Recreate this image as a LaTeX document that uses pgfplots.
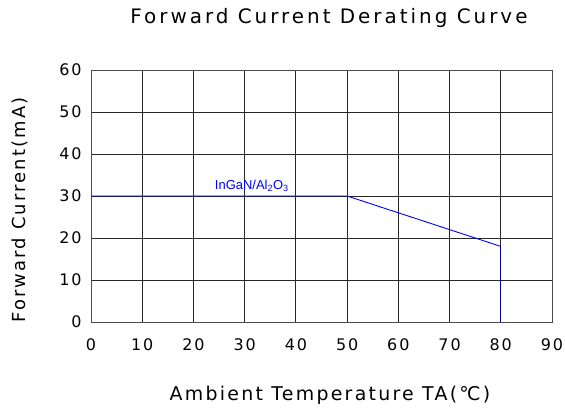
\documentclass[border=0pt]{standalone}
\usepackage{pgfplots}
\pgfplotsset{compat=1.18}
\usepackage{fontspec}
\setmainfont{DejaVu Sans}
\newfontfamily\cadfont{DejaVu Sans}[LetterSpace=12]
\newfontfamily\titfont{DejaVu Sans}[LetterSpace=15]
\newfontfamily\labfont{Liberation Sans}
\begin{document}
\begin{tikzpicture}
\useasboundingbox (0,0) rectangle (565bp,410bp);
\begin{axis}[
  at={(91bp,88bp)}, anchor=south west,
  width=461bp, height=252bp, scale only axis,
  xmin=0, xmax=90, ymin=0, ymax=60,
  xtick={0,10,...,90}, ytick={0,10,...,60},
  grid=major,
  major grid style={black!85, line width=0.8bp},
  axis line style={black!70, line width=0.8bp},
  major tick length=0pt,
  /pgf/number format/assume math mode=true,
  ticklabel style={font=\fontsize{16}{16}\selectfont\cadfont},
  xticklabel style={anchor=center, yshift=-23bp},
  yticklabel style={anchor=east, xshift=-6bp},
  clip=false,
]
\addplot[blue, line width=0.9bp] coordinates {(0,30) (50,30) (80,18)};
\addplot[blue!60!black, line width=0.9bp] coordinates {(80,18) (80,0)};
\node[text=blue, font=\fontsize{13}{13}\selectfont\labfont] at (axis cs:31.4,32.4) {InGaN/Al\textsubscript{2}O\textsubscript{3}};
\end{axis}
\node[font=\fontsize{20}{20}\selectfont\titfont] at (329bp,392bp) {Forward Current Derating Curve};
\node[font=\fontsize{19}{19}\selectfont\cadfont] at (330bp,15bp) {Ambient Temperature TA(℃)};
\node[font=\fontsize{18}{18}\selectfont\cadfont, rotate=90] at (20bp,200bp) {Forward Current(mA)};
\end{tikzpicture}
\end{document}
